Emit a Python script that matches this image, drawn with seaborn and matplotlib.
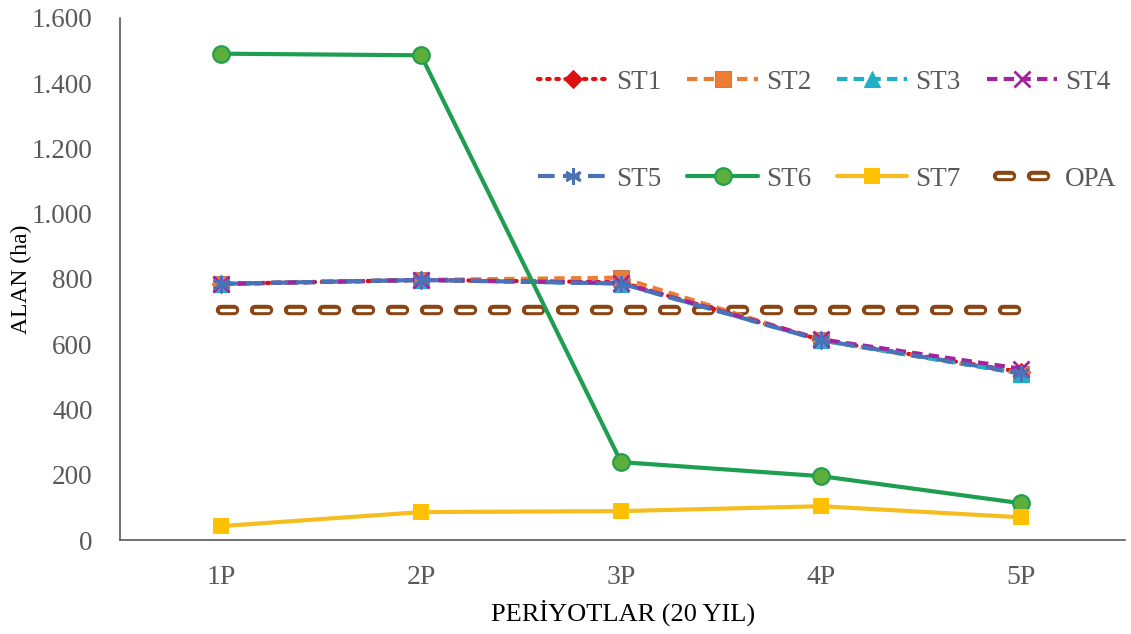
import matplotlib
matplotlib.use("Agg")
import matplotlib.pyplot as plt
import matplotlib.patheffects as pe
from matplotlib.ticker import FuncFormatter
import seaborn as sns
import pandas as pd

periods = ["1P", "2P", "3P", "4P", "5P"]
st1 = [785, 797, 790, 613, 515]
st2 = [785, 797, 804, 612, 510]
st3 = [785, 797, 786, 612, 510]
st4 = [785, 797, 788, 615, 525]
st5 = [785, 797, 786, 612, 512]
st6 = [1490, 1485, 239, 196, 113]
st7 = [43, 86, 89, 104, 70]
opa = [705, 705, 705, 705, 705]

sns.set_theme(style="white")
plt.rcParams["font.family"] = ["Liberation Serif", "DejaVu Serif"]

fig = plt.figure(figsize=(11.31, 6.34), dpi=100)
ax = fig.add_axes([0.106, 0.148, 0.889, 0.824])

x = list(range(len(periods)))
grey = "#595959"

series = [
    ("ST1", st1, dict(color="#E01010", linestyle=(0, (0.6, 1.6)), dash_capstyle="round", marker="D", markersize=9,
                       markerfacecolor="#E01010", markeredgecolor="#E01010")),
    ("ST2", st2, dict(color="#ED7D31", linestyle=(0, (2.5, 1.5)), marker="s", markersize=12,
                       markerfacecolor="#ED7D31", markeredgecolor="#C97A55")),
    ("ST3", st3, dict(color="#1FB0C8", linestyle=(0, (2.5, 1.5)), marker="^", markersize=11,
                       markerfacecolor="#1FB0C8", markeredgecolor="#1FB0C8")),
    ("ST4", st4, dict(color="#A3229E", linestyle=(0, (2.5, 1.5)), marker="x", markersize=11, markeredgewidth=2,
                       markerfacecolor="#A3229E", markeredgecolor="#A3229E")),
    ("ST5", st5, dict(color="#4A72B8", linestyle=(0, (4, 2)), marker=(6, 2, 0), markersize=12, markeredgewidth=2,
                       markerfacecolor="#4A72B8", markeredgecolor="#4A72B8")),
    ("ST6", st6, dict(color="#1E9E50", linestyle="-", marker="o", markersize=12, markeredgewidth=1.5,
                       markerfacecolor="#5DAE3B", markeredgecolor="#1E9E50")),
    ("ST7", st7, dict(color="#F5BD1F", linestyle="-", marker="s", markersize=11, markeredgewidth=0,
                       markerfacecolor="#FFC000", markeredgecolor="#FFC000")),
]

df = pd.DataFrame({"x": x, "y": opa})
sns.lineplot(data=df, x="x", y="y", ax=ax, label="OPA", color="white", linewidth=2.4,
             linestyle=(0, (3.9, 6.3)), dash_capstyle="round",
             path_effects=[pe.Stroke(linewidth=7.5, foreground="#8B4513", capstyle="round"), pe.Normal()])

for name, vals, kw in series:
    d = pd.DataFrame({"x": x, "y": vals})
    sns.lineplot(data=d, x="x", y="y", ax=ax, label=name, linewidth=3, **kw)

ax.set_xlim(-0.505, 4.52)
ax.set_ylim(0, 1600)
ax.set_xticks(x)
ax.set_xticklabels(periods)
ax.set_yticks(range(0, 1601, 200))
ax.yaxis.set_major_formatter(FuncFormatter(lambda v, p: f"{int(v):,}".replace(",", ".")))
ax.tick_params(axis="y", labelsize=19.5, colors=grey, length=0, pad=19.5)
ax.tick_params(axis="x", labelsize=20, colors=grey, length=0, pad=18)
for s in ["top", "right"]:
    ax.spines[s].set_visible(False)
for s in ["left", "bottom"]:
    ax.spines[s].set_color("#595959")
    ax.spines[s].set_linewidth(1.2)

ax.set_xlabel("PERİYOTLAR (20 YIL)", fontsize=19, color="black")
ax.set_ylabel("ALAN (ha)", fontsize=17, color="black")
ax.xaxis.set_label_coords(0.5, -0.113)
ax.yaxis.set_label_coords(-0.087, 0.5)

handles, labels = ax.get_legend_handles_labels()
hmap = dict(zip(labels, handles))
order = ["ST1", "ST5", "ST2", "ST6", "ST3", "ST7", "ST4", "OPA"]
leg = ax.legend([hmap[k] for k in order], order, ncol=4, loc="upper right",
                bbox_to_anchor=(1.005, 0.926), frameon=False,
                fontsize=19.5, labelspacing=2.65, handlelength=2.6, columnspacing=0.95,
                handletextpad=0.3, borderpad=0)
for t in leg.get_texts():
    t.set_color(grey)
for ln, lab in zip(leg.get_lines(), order):
    if lab == "OPA":
        ln.set_linestyle((6.9, (3.9, 6.3)))

fig.savefig("out.png", dpi=100)
